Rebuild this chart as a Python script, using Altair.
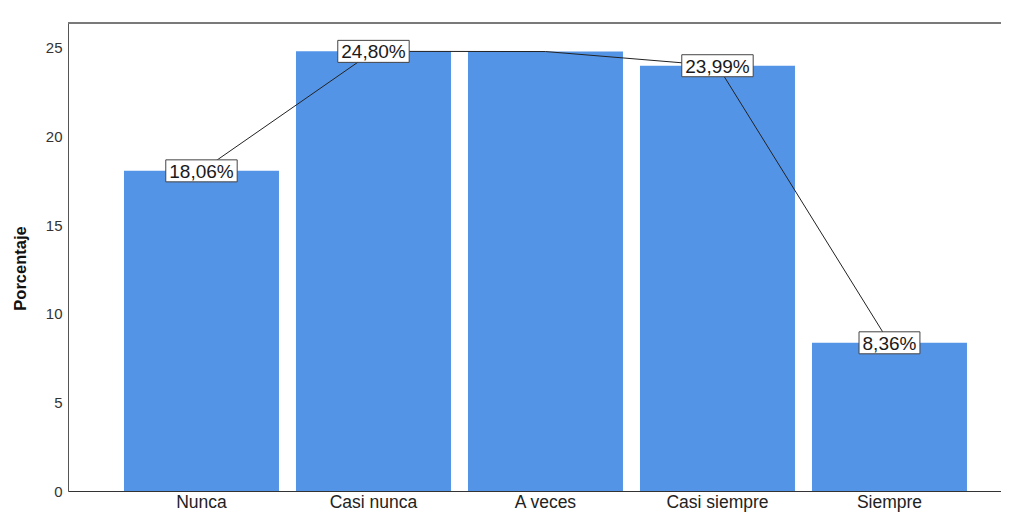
import altair as alt
import pandas as pd

categories = ["Nunca", "Casi nunca", "A veces", "Casi siempre", "Siempre"]
values = [18.06, 24.80, 24.79, 23.99, 8.36]
labels = ["18,06%", "24,80%", "24,79%", "23,99%", "8,36%"]
show_label = [True, True, False, True, True]
y_ticks = [0, 5, 10, 15, 20, 25]

FONT = "Liberation Sans"
FS = 19


def text_width(s, fs=FS):
    w = 0.0
    for ch in s:
        if ch.isdigit():
            w += 0.556
        elif ch == ",":
            w += 0.278
        elif ch == "%":
            w += 0.889
        else:
            w += 0.5
    return w * fs


def box_path(s):
    hw = (text_width(s) + 7) / 2 / 50.0
    hh = 11 / 50.0
    return f"M{-hw:.3f},{-hh:.3f}H{hw:.3f}V{hh:.3f}H{-hw:.3f}Z"


df = pd.DataFrame({
    "cat": categories,
    "val": values,
    "lab": labels,
    "show": show_label,
})
df["box"] = [box_path(s) for s in labels]
df_lab = df[df["show"]]

W, H = 933, 468
x_scale = alt.Scale(domain=categories, paddingInner=0.0988, paddingOuter=0.2616, align=0.622)
y_scale = alt.Scale(domain=[0, 26.4], nice=False)

x_enc = alt.X("cat:N", scale=x_scale, sort=categories,
              axis=alt.Axis(title=None, labelAngle=0, ticks=False, labelFont=FONT,
                            labelFontSize=17.5, labelColor="#222222", labelPadding=2,
                            domainColor="#333333", domainWidth=1))
y_enc = alt.Y("val:Q", scale=y_scale,
              axis=alt.Axis(title="Porcentaje", values=y_ticks, grid=False, ticks=False,
                            labelFont=FONT, labelFontSize=15, labelColor="#333333",
                            labelPadding=6, domainColor="#555555", domainWidth=1,
                            titleFont=FONT, titleFontSize=16.5, titleFontWeight="bold",
                            titleColor="#111111", titleAngle=-90, titleX=-48, titleY=245,
                            titleAlign="center", titleBaseline="middle"))

bars = alt.Chart(df).mark_bar(color="#5494E6").encode(x=x_enc, y=y_enc)

top_line = alt.Chart(df).mark_rule(color="#777777", strokeWidth=1).encode(y=alt.value(0))

line = alt.Chart(df).mark_line(color="#222222", strokeWidth=1).encode(
    x=alt.X("cat:N", scale=x_scale, sort=categories),
    y=alt.Y("val:Q", scale=y_scale),
)

boxes = alt.Chart(df_lab).mark_point(
    filled=True, fill="white", stroke="#444444", strokeWidth=1, opacity=1, size=10000
).encode(
    x=alt.X("cat:N", scale=x_scale, sort=categories),
    y=alt.Y("val:Q", scale=y_scale),
    shape=alt.Shape("box:N", scale=None),
)

texts = alt.Chart(df_lab).mark_text(
    font=FONT, fontSize=FS, color="#1a1a1a", baseline="middle", align="center", dy=1
).encode(
    x=alt.X("cat:N", scale=x_scale, sort=categories),
    y=alt.Y("val:Q", scale=y_scale),
    text="lab:N",
)

chart = alt.layer(bars, top_line, line, boxes, texts).properties(
    width=W, height=H,
    autosize=alt.AutoSizeParams(type="none"),
    padding={"left": 60, "top": 15, "right": 0, "bottom": 23},
).configure_view(stroke=None).configure(background="white")

chart.save("out.html", embed_options={"renderer": "svg", "actions": False})
